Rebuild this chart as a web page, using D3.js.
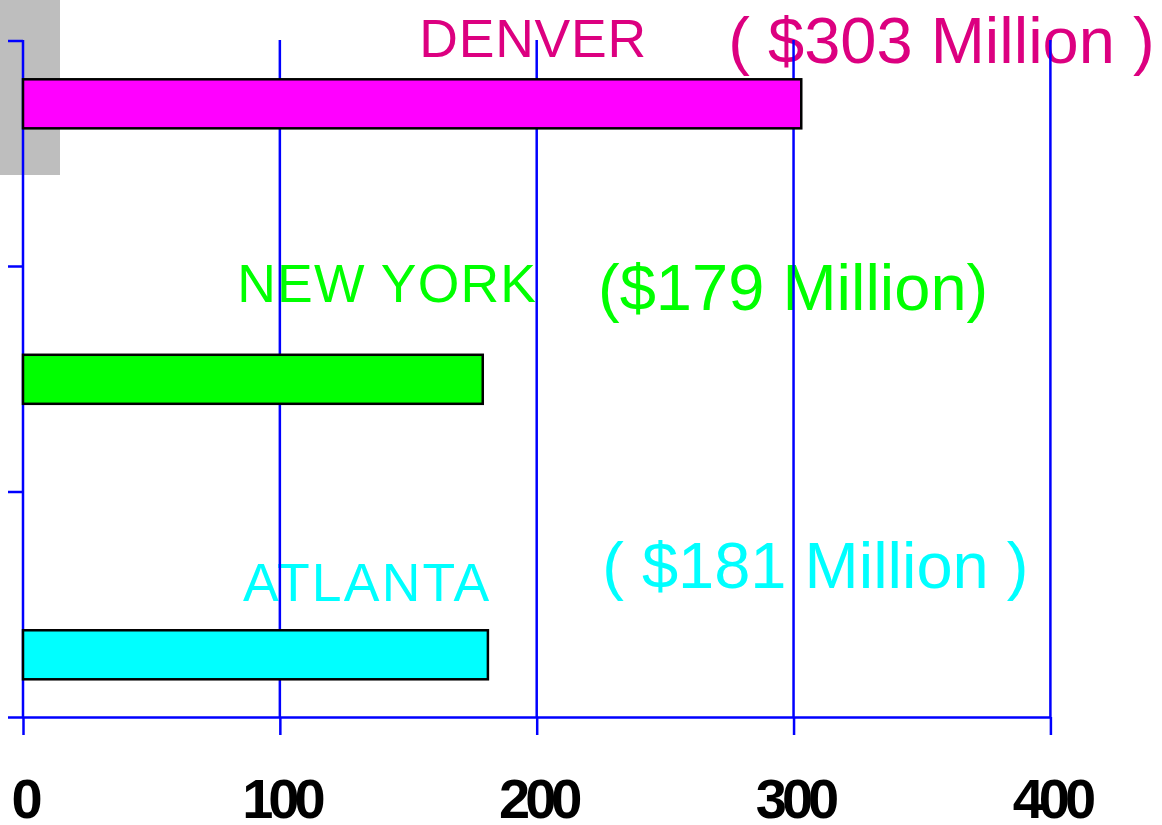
<!DOCTYPE html>
<html>
<head>
<meta charset="utf-8">
<script src="https://cdn.jsdelivr.net/npm/d3@7"></script>
<style>
  body { margin: 0; background: #fff; }
  svg { display: block; }
  text { font-family: "Liberation Sans", Arial, sans-serif; }
</style>
</head>
<body>
<div id="grafico"></div>
<script>
// dados
const cidades = ['DENVER', 'NEW YORK', 'ATLANTA'];
const valores = [303, 179, 181];
const rotulosValor = ['( $303 Million )', '($179 Million)', '( $181 Million )'];
const coresBarra = ['#ff00ff', '#00ff00', '#00ffff'];
const coresTexto = ['#dc0080', '#00ff00', '#00ffff'];
const ticksX = [0, 100, 200, 300, 400];
const ticksY = [0, 1, 2, 3];

// posição dos rótulos (em unidades do eixo x e deslocamento em px do topo da barra)
const posNome = [[198.6, -22], [141.8, -53], [134, -29]];
const espacoNome = [0.8, 1.2, 2.2];
const posValor = [[274.6, -16], [223.9, -45], [225.5, -42]];

function criarGrafico() {
  const largura = 1162;
  const altura = 825;

  const svg = d3.select('#grafico').append('svg')
    .attr('width', largura)
    .attr('height', altura);

  const x = d3.scaleLinear().domain([0, 400]).range([23, 1050.4]);
  const yTick = d3.scaleLinear().domain([0, 3]).range([717, 40.5]);
  const y = d3.scaleBand().domain(cidades).range([79.3, 679.3])
    .paddingInner(0.822).paddingOuter(0);

  // retângulo cinza no canto
  svg.append('rect')
    .attr('x', 0).attr('y', 0)
    .attr('width', 60).attr('height', 175)
    .attr('fill', '#bebebe');

  // rótulos das cidades
  svg.selectAll('.nome')
    .data(cidades)
    .enter()
    .append('text')
    .attr('class', 'nome')
    .attr('x', (d, i) => x(posNome[i][0]))
    .attr('y', (d, i) => y(d) + posNome[i][1])
    .attr('text-anchor', 'middle')
    .attr('font-size', 53.5)
    .attr('letter-spacing', (d, i) => espacoNome[i])
    .attr('fill', (d, i) => coresTexto[i])
    .text((d) => d);

  // rótulos de valor
  svg.selectAll('.valor')
    .data(rotulosValor)
    .enter()
    .append('text')
    .attr('class', 'valor')
    .attr('x', (d, i) => x(posValor[i][0]))
    .attr('y', (d, i) => y(cidades[i]) + posValor[i][1])
    .attr('font-size', 65)
    .attr('fill', (d, i) => coresTexto[i])
    .text((d) => d);

  // linhas de grade verticais
  svg.selectAll('.grade')
    .data(ticksX)
    .enter()
    .append('line')
    .attr('class', 'grade')
    .attr('x1', (d) => x(d)).attr('x2', (d) => x(d))
    .attr('y1', 40).attr('y2', 717)
    .attr('stroke', '#0000ff')
    .attr('stroke-width', 2.5);

  // eixo X
  const eixoX = svg.append('g')
    .attr('transform', 'translate(0,717)')
    .call(d3.axisBottom(x).tickValues(ticksX).tickSize(18).tickSizeOuter(0));
  eixoX.select('.domain').attr('stroke', '#0000ff').attr('stroke-width', 2.5);
  eixoX.selectAll('.tick line').attr('stroke', '#0000ff').attr('stroke-width', 2.5);
  eixoX.selectAll('.tick text')
    .attr('y', 101).attr('dy', 0).attr('dx', 1)
    .attr('fill', '#000')
    .attr('font-family', '"Liberation Sans", Arial, sans-serif')
    .attr('font-size', 56)
    .attr('font-weight', 'bold')
    .attr('letter-spacing', -5);

  // eixo Y (só marcas)
  const eixoY = svg.append('g')
    .attr('transform', 'translate(23,0)')
    .call(d3.axisLeft(yTick).tickValues(ticksY).tickSize(15).tickSizeOuter(0).tickFormat(''));
  eixoY.select('.domain').remove();
  eixoY.selectAll('.tick line').attr('stroke', '#0000ff').attr('stroke-width', 2.5);

  // barras
  svg.selectAll('.bar')
    .data(valores)
    .enter()
    .append('rect')
    .attr('class', 'bar')
    .attr('x', x(0))
    .attr('y', (d, i) => y(cidades[i]))
    .attr('width', (d) => x(d) - x(0))
    .attr('height', y.bandwidth())
    .attr('fill', (d, i) => coresBarra[i])
    .attr('stroke', '#000')
    .attr('stroke-width', 2.5);
}

criarGrafico();
</script>
</body>
</html>
